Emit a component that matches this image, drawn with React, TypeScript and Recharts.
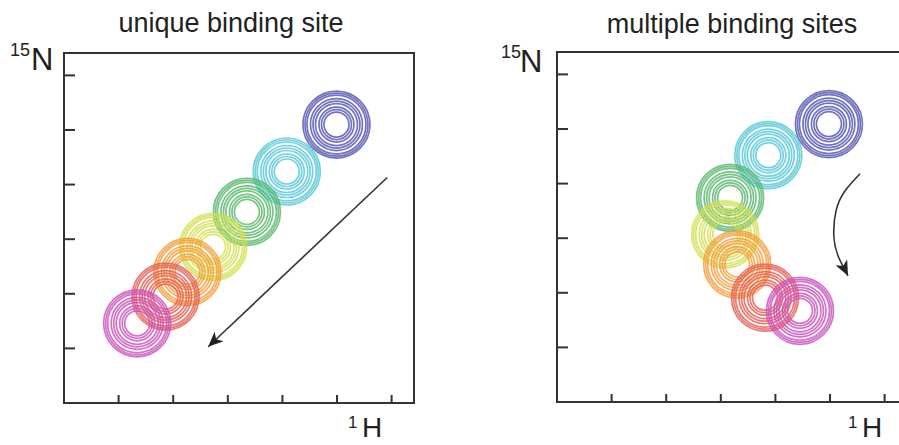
import React from "react";
import {
  ScatterChart,
  Scatter,
  XAxis,
  YAxis,
  ReferenceArea,
  Cell,
} from "recharts";

// peak positions (1H, 15N) in arbitrary ppm units, high -> low concentration order
const uniqueH = [4.99, 4.08, 3.35, 2.73, 2.26, 1.86, 1.34];
const uniqueN = [5.1, 4.24, 3.5, 2.86, 2.4, 1.95, 1.46];
const multipleH = [4.98, 3.87, 3.17, 3.08, 3.3, 3.81, 4.45];
const multipleN = [5.09, 4.52, 3.74, 3.07, 2.52, 1.91, 1.67];

// arrows
const arrowUniqueH = [5.92, 2.64];
const arrowUniqueN = [4.13, 1.03];
const arrowMultipleH = [5.55, 5.27, 5.11, 5.07, 5.15, 5.33];
const arrowMultipleN = [4.18, 3.86, 3.5, 3.04, 2.67, 2.31];

const ticks = [1, 2, 3, 4, 5, 6];
const AXIS_MAX = 6.41;

const peakColors = ["#4f4fb0", "#4fc6d6", "#52b568", "#d2df48", "#f59a36", "#e55a50", "#c94dba"];
const ringRadii = [12.5, 15, 17.5, 21, 23.5, 26, 29.5, 31.5, 33.5];

const toPeaks = (h: number[], n: number[]) => h.map((x, i) => ({ h: x, n: n[i] }));

const toArrow = (h: number[], n: number[]) => {
  const k = h.length - 1;
  const ang = (Math.atan2(-(n[k] - n[k - 1]), h[k] - h[k - 1]) * 180) / Math.PI;
  return h.map((x, i) => ({ h: x, n: n[i], tip: i === k, ang }));
};

const Rings = (props: any) => {
  const { cx, cy, fill } = props;
  return (
    <g>
      {ringRadii.map((r) => (
        <circle key={r} cx={cx} cy={cy} r={r} fill="none" stroke={fill} strokeWidth={1.7} strokeOpacity={0.8} />
      ))}
    </g>
  );
};

const ArrowHead = (props: any) => {
  const { cx, cy, payload } = props;
  if (!payload || !payload.tip) return <g />;
  return (
    <g transform={`translate(${cx},${cy}) rotate(${payload.ang})`}>
      <polygon points="0,0 -15,-6.5 -11,0 -15,6.5" fill="#222" />
    </g>
  );
};

function Panel({ peaks, arrow, curve }: { peaks: any[]; arrow: any[]; curve: string }) {
  return (
    <ScatterChart width={450} height={445} margin={{ top: 53, right: 36, bottom: 42, left: 64 }}>
      <XAxis
        type="number"
        dataKey="h"
        domain={[0, AXIS_MAX]}
        ticks={ticks}
        mirror
        tickFormatter={() => ""}
        tickSize={8}
        tickLine={{ stroke: "#333", strokeWidth: 2 }}
        stroke="#333"
        strokeWidth={2}
        allowDataOverflow
      />
      <YAxis
        type="number"
        dataKey="n"
        domain={[0, AXIS_MAX]}
        ticks={ticks}
        mirror
        tickFormatter={() => ""}
        tickSize={11}
        tickLine={{ stroke: "#333", strokeWidth: 2 }}
        stroke="#333"
        strokeWidth={2}
        allowDataOverflow
      />
      <ReferenceArea x1={0} x2={AXIS_MAX} y1={0} y2={AXIS_MAX} fill="none" stroke="#333" strokeWidth={2} fillOpacity={0} />
      <Scatter data={peaks} shape={Rings} isAnimationActive={false}>
        {peaks.map((_, i) => (
          <Cell key={i} fill={peakColors[i]} />
        ))}
      </Scatter>
      <Scatter
        data={arrow}
        shape={ArrowHead}
        line={{ stroke: "#333", strokeWidth: 1.6 }}
        lineType="joint"
        lineJointType={curve as any}
        fill="#333"
        isAnimationActive={false}
      />
    </ScatterChart>
  );
}

const textStyle: React.CSSProperties = { fontFamily: "'Liberation Sans', Arial, sans-serif", fill: "#222" };

export default function App() {
  return (
    <div style={{ position: "fixed", left: 0, top: 0, width: 899, height: 445, overflow: "hidden", background: "#fff" }}>
      <div style={{ position: "absolute", left: 0, top: 0 }}>
        <Panel peaks={toPeaks(uniqueH, uniqueN)} arrow={toArrow(arrowUniqueH, arrowUniqueN)} curve="linear" />
      </div>
      <div style={{ position: "absolute", left: 493, top: -1 }}>
        <Panel peaks={toPeaks(multipleH, multipleN)} arrow={toArrow(arrowMultipleH, arrowMultipleN)} curve="natural" />
      </div>
      <svg width={899} height={445} style={{ position: "absolute", left: 0, top: 0, pointerEvents: "none" }}>
        <g style={textStyle}>
          <text x={231} y={32} fontSize={27} textAnchor="middle">unique binding site</text>
          <text x={732} y={33} fontSize={27} textAnchor="middle">multiple binding sites</text>
          <text x={10} y={56} fontSize={18}>15</text>
          <text x={31} y={70} fontSize={31}>N</text>
          <text x={501} y={58} fontSize={18}>15</text>
          <text x={520} y={72} fontSize={31}>N</text>
          <text x={348} y={428} fontSize={17}>1</text>
          <text x={362} y={437} fontSize={28}>H</text>
          <text x={848} y={428} fontSize={17}>1</text>
          <text x={862} y={437} fontSize={28}>H</text>
        </g>
      </svg>
    </div>
  );
}
